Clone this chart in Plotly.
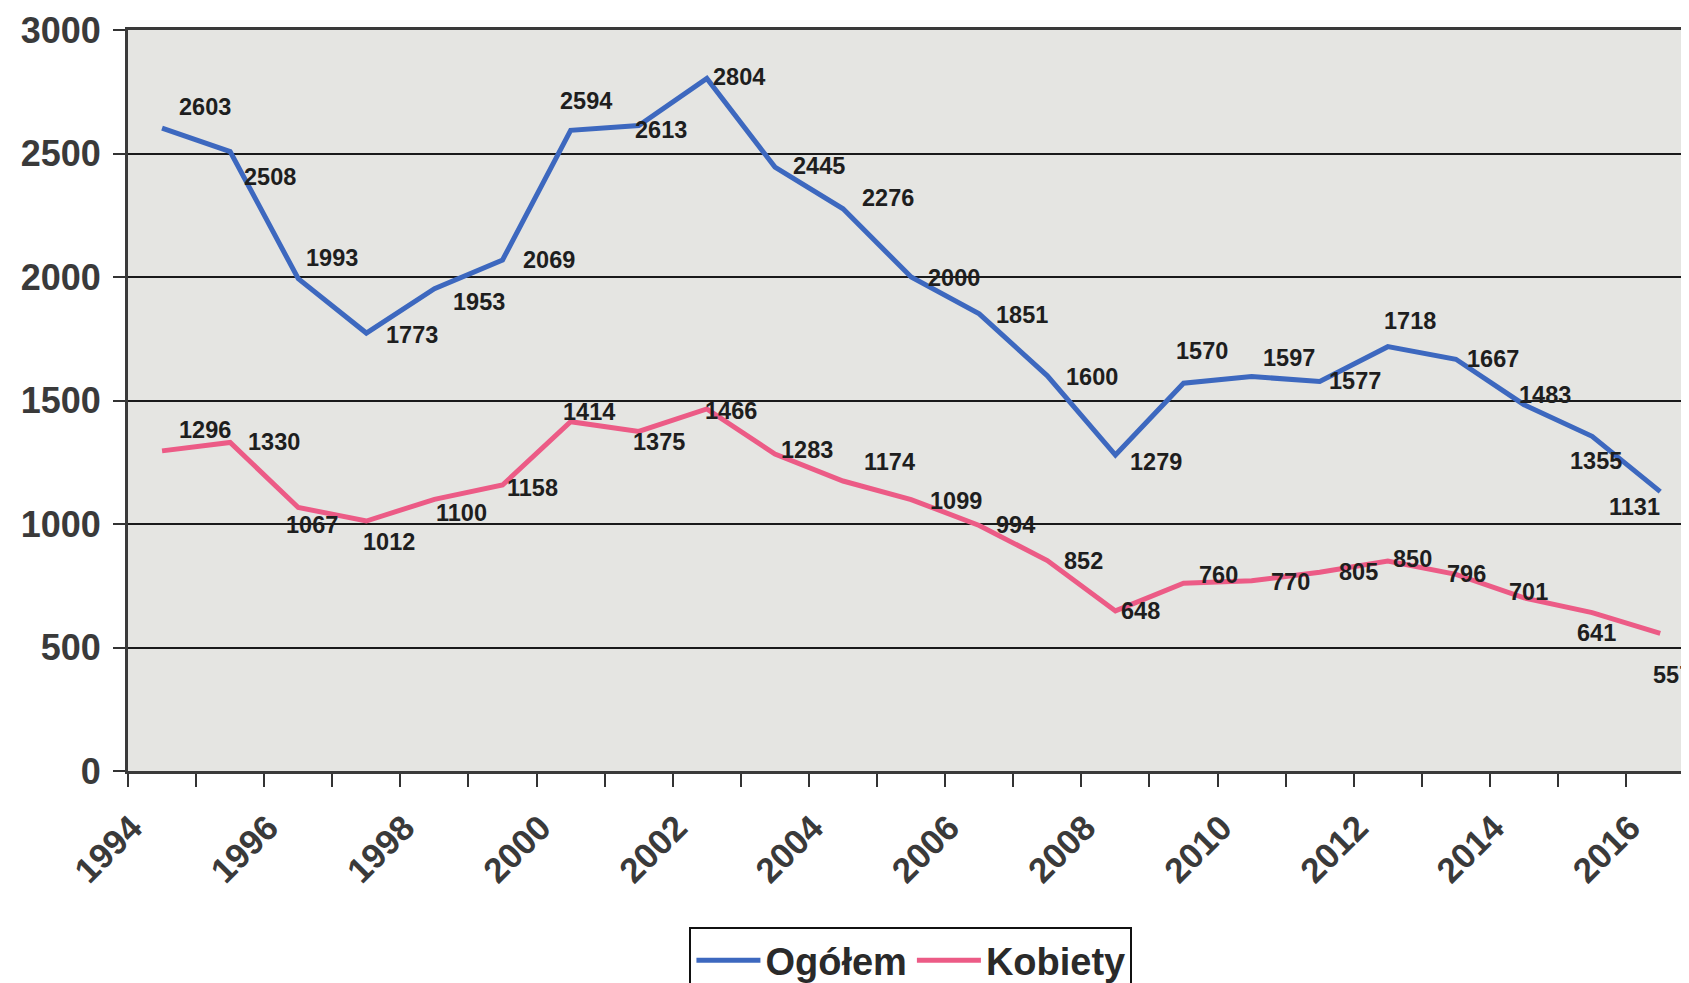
import plotly.graph_objects as go

years = list(range(1994, 2017))
ogolem = [2603, 2508, 1993, 1773, 1953, 2069, 2594, 2613, 2804, 2445, 2276, 2000,
          1851, 1600, 1279, 1570, 1597, 1577, 1718, 1667, 1483, 1355, 1131]
kobiety = [1296, 1330, 1067, 1012, 1100, 1158, 1414, 1375, 1466, 1283, 1174, 1099,
           994, 852, 648, 760, 770, 805, 850, 796, 701, 641, 557]
series_names = ["Ogółem", "Kobiety"]
tick_years = list(range(1994, 2017))
tick_text = [str(y) if y % 2 == 0 else "" for y in tick_years]

# category centres sit between the yearly tick marks
x_centres = [y + 0.5 for y in years]

# label offsets (pixels of the shrunk reference, right / down) relative to each point
off_ogolem = [(40, -20), (37, 24), (31, -19), (42, 2), (41, 12), (43, 0), (14, -27),
              (21, 4), (30, -1), (41, -1), (42, -10), (40, 1), (40, 1), (41, 1),
              (38, 6), (17, -30), (35, -17), (33, 0), (21, -24), (34, 0), (19, -9),
              (4, 23), (-24, 14)]
off_kobiety = [(40, -19), (41, 0), (13, 16), (21, 19), (25, 13), (28, 3), (17, -9),
               (19, 10), (22, 2), (30, -4), (43, -18), (42, 1), (34, 0), (34, 0),
               (23, 0), (32, -8), (36, 1), (36, 0), (23, -2), (10, 0), (4, -5),
               (4, 19), (11, 39)]

FONT = "Liberation Sans, Arial, sans-serif"
label_font = dict(family=FONT, size=23.5, color="#1e1e1e", weight="bold")
COLORS = ["#3d68bf", "#ec5b86"]
SCALE = 1 / 0.928

fig = go.Figure()
for name, vals, col in zip(series_names, [ogolem, kobiety], COLORS):
    fig.add_trace(go.Scatter(
        x=x_centres, y=vals, name=name, mode="lines",
        line=dict(color=col, width=5),
    ))

annotations = []
for vals, offs in [(ogolem, off_ogolem), (kobiety, off_kobiety)]:
    for xv, v, (dx, dy) in zip(x_centres, vals, offs):
        annotations.append(dict(
            x=xv, y=v, xref="x", yref="y", text=str(v), showarrow=False,
            xshift=dx * SCALE, yshift=-dy * SCALE, font=label_font,
            xanchor="center", yanchor="middle",
        ))

fig.update_layout(
    width=1689, height=983,
    margin=dict(l=120, r=0, t=22, b=220),
    paper_bgcolor="white",
    plot_bgcolor="#e5e5e2",
    showlegend=True,
    annotations=annotations,
    legend=dict(
        orientation="h", x=0.499, xanchor="center",
        yref="container", y=0.0651, yanchor="top",
        bgcolor="white", bordercolor="#111111", borderwidth=2,
        font=dict(family=FONT, size=38, color="#2a2a2a", weight="bold"),
        itemwidth=64, traceorder="normal",
    ),
    xaxis=dict(
        range=[1994, 2017.04], tickmode="array", tickvals=tick_years, ticktext=tick_text,
        tickangle=-45, ticks="outside", ticklen=13, tickwidth=2, tickcolor="#333333",
        showgrid=False, showline=True, linecolor="#3a3a3a", linewidth=3, mirror=True,
        tickfont=dict(family=FONT, size=35, color="#3a3a3a", weight="bold"),
        zeroline=False, automargin=False, ticklabelstandoff=6, ticklabelshift=4,
        ticklabeloverflow="allow",
    ),
    yaxis=dict(
        range=[0, 3000], tickmode="array", tickvals=[0, 500, 1000, 1500, 2000, 2500, 3000],
        ticks="outside", ticklen=12, tickwidth=2, tickcolor="#333333",
        showgrid=True, gridcolor="#1a1a1a", gridwidth=2,
        showline=True, linecolor="#3a3a3a", linewidth=3,
        tickfont=dict(family=FONT, size=36, color="#3a3a3a", weight="bold"),
        zeroline=False, ticklabelstandoff=5, automargin=False,
        ticklabeloverflow="allow",
    ),
)

fig.write_html("out.html")
